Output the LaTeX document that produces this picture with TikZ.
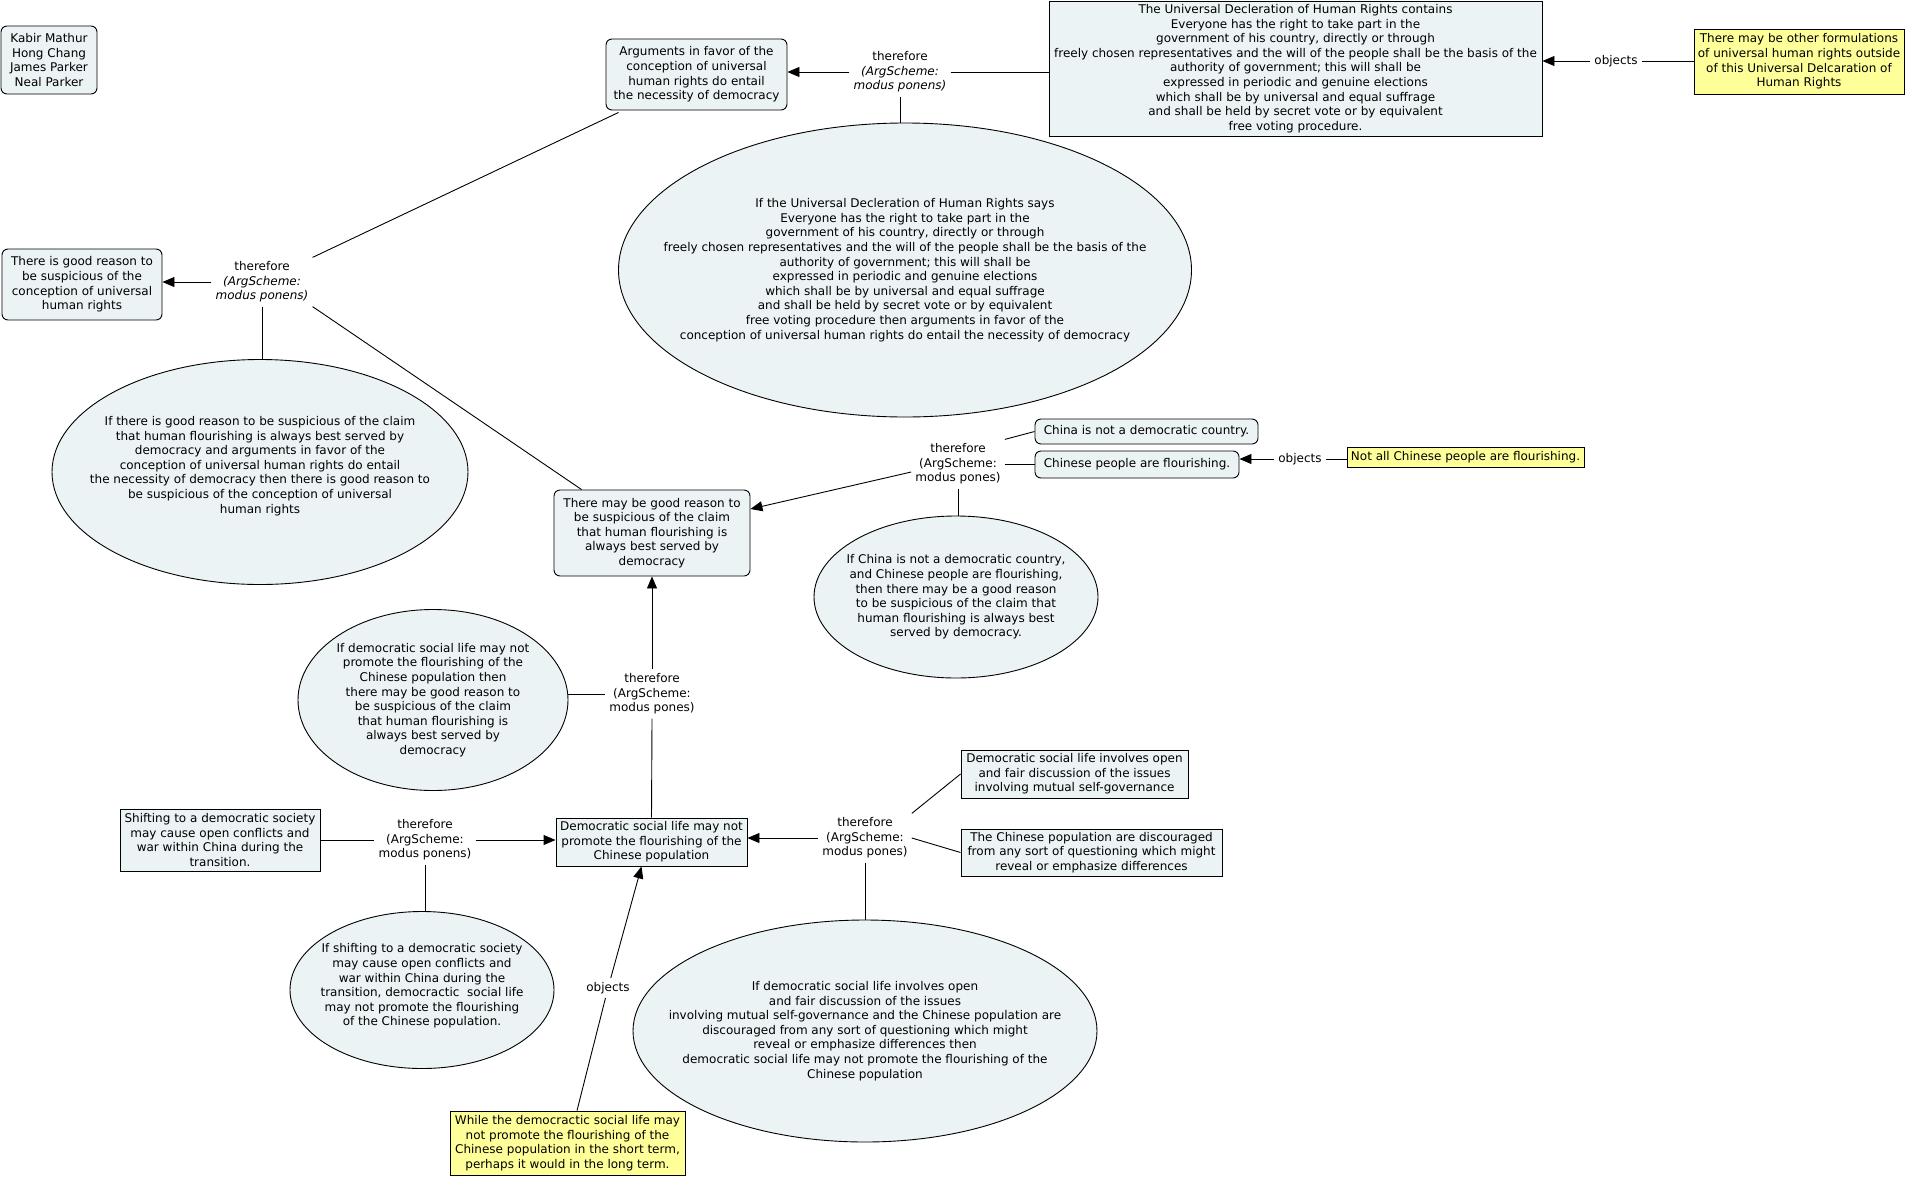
\documentclass[tikz,border=0pt]{standalone}
\usepackage{fontspec}
\setmainfont{DejaVu Sans}
\usetikzlibrary{shapes.geometric,arrows.meta,calc}
\definecolor{nodefill}{HTML}{EBF3F5}
\definecolor{objfill}{HTML}{FFFF99}
\begin{document}
\begin{tikzpicture}[x=1pt,y=-1pt,
 base/.style={font=\fontsize{12}{14.6}\selectfont, align=center},
 rbox/.style={base, draw, fill=nodefill, rounded corners=6pt, line width=0.9pt, inner sep=0pt},
 sbox/.style={base, draw, fill=nodefill, line width=0.9pt, inner sep=0pt},
 ybox/.style={base, draw, fill=objfill, line width=0.9pt, inner sep=0pt},
 ellnode/.style={draw, ellipse, fill=nodefill, line width=0.9pt, inner sep=0pt},
 etext/.style={base, inner sep=0pt},
 lbl/.style={base, inner sep=4pt},
 conn/.style={line width=0.9pt},
 arr/.style={conn, -{Triangle[length=12pt,width=10pt]}}]
\fill[white] (0,0) rectangle (1908,1178);
\useasboundingbox (0,0) rectangle (1908,1178);

% nodes
\node[rbox, minimum width=96, minimum height=68] (authors) at (49,60) {Kabir Mathur\\Hong Chang\\James Parker\\Neal Parker};
\node[rbox, minimum width=181, minimum height=71] (args) at (696.5,74.5) {Arguments in favor of the\\conception of universal\\human rights do entail\\the necessity of democracy};
\node[sbox, minimum width=493, minimum height=135] (udhr) at (1295.5,68.5) {The Universal Decleration of Human Rights contains\\Everyone has the right to take part in the\\government of his country, directly or through\\freely chosen representatives and the will of the people shall be the basis of the\\authority of government; this will shall be\\expressed in periodic and genuine elections\\which shall be by universal and equal suffrage\\and shall be held by secret vote or by equivalent\\free voting procedure.};
\node[ybox, minimum width=210, minimum height=65] (yellow1) at (1799,61.5) {There may be other formulations\\of universal human rights outside\\of this Universal Delcaration of\\Human Rights};
\node[ellnode, minimum width=573, minimum height=294] (ell1) at (905,270) {};
\node[etext] at (ell1) {If the Universal Decleration of Human Rights says\\Everyone has the right to take part in the\\government of his country, directly or through\\freely chosen representatives and the will of the people shall be the basis of the\\authority of government; this will shall be\\expressed in periodic and genuine elections\\which shall be by universal and equal suffrage\\and shall be held by secret vote or by equivalent\\free voting procedure then arguments in favor of the\\conception of universal human rights do entail the necessity of democracy};
\node[rbox, minimum width=160, minimum height=71] (good) at (82,284.5) {There is good reason to\\be suspicious of the\\conception of universal\\human rights};
\node[ellnode, minimum width=416, minimum height=225] (ell2) at (260,472) {};
\node[etext] at ($(ell2)+(0,-6)$) {If there is good reason to be suspicious of the claim\\that human flourishing is always best served by\\democracy and arguments in favor of the\\conception of universal human rights do entail\\the necessity of democracy then there is good reason to\\be suspicious of the conception of universal\\human rights};
\node[rbox, minimum width=196, minimum height=86] (maygood) at (652,533) {There may be good reason to\\be suspicious of the claim\\that human flourishing is\\always best served by\\democracy};
\node[rbox, minimum width=223, minimum height=25] (china) at (1146.5,431.5) {China is not a democratic country.};
\node[rbox, minimum width=204, minimum height=27] (flour) at (1137,464.5) {Chinese people are flourishing.};
\node[ybox, minimum width=237, minimum height=20] (yellow2) at (1465.5,457.5) {Not all Chinese people are flourishing.};
\node[ellnode, minimum width=284, minimum height=162] (ell3) at (956,597) {};
\node[etext] at (ell3) {If China is not a democratic country,\\and Chinese people are flourishing,\\then there may be a good reason\\to be suspicious of the claim that\\human flourishing is always best\\served by democracy.};
\node[ellnode, minimum width=270, minimum height=181] (ell4) at (433,700) {};
\node[etext] at (ell4) {If democratic social life may not\\promote the flourishing of the\\Chinese population then\\there may be good reason to\\be suspicious of the claim\\that human flourishing is\\always best served by\\democracy};
\node[sbox, minimum width=191, minimum height=48] (dsl) at (651.5,842) {Democratic social life may not\\promote the flourishing of the\\Chinese population};
\node[sbox, minimum width=200, minimum height=62] (shift) at (220,840) {Shifting to a democratic society\\may cause open conflicts and\\war within China during the\\transition.};
\node[ellnode, minimum width=264, minimum height=157] (ell5) at (422,990) {};
\node[etext] at ($(ell5)+(0,-4)$) {If shifting to a democratic society\\may cause open conflicts and\\war within China during the\\transition, democractic\ \ social life\\may not promote the flourishing\\of the Chinese population.};
\node[sbox, minimum width=227, minimum height=48] (inv) at (1074.5,774) {Democratic social life involves open\\and fair discussion of the issues\\involving mutual self-governance};
\node[sbox, minimum width=261, minimum height=47] (disc) at (1091.5,852.5) {The Chinese population are discouraged\\from any sort of questioning which might\\reveal or emphasize differences};
\node[ellnode, minimum width=464, minimum height=222] (ell6) at (865,1031) {};
\node[etext] at (ell6) {If democratic social life involves open\\and fair discussion of the issues\\involving mutual self-governance and the Chinese population are\\discouraged from any sort of questioning which might\\reveal or emphasize differences then\\democratic social life may not promote the flourishing of the\\Chinese population};
\node[ybox, minimum width=235, minimum height=64] (yellow3) at (567.5,1143) {While the democractic social life may\\not promote the flourishing of the\\Chinese population in the short term,\\perhaps it would in the long term.};

% linking phrases
\node[lbl] (lab1) at (900,72) {therefore\\\textit{(ArgScheme:}\\\textit{modus ponens)}};
\node[lbl] (objects1) at (1616,61) {objects};
\node[lbl] (lab2) at (262,282) {therefore\\\textit{(ArgScheme:}\\\textit{modus ponens)}};
\node[lbl] (lab3) at (958,464) {therefore\\(ArgScheme:\\modus pones)};
\node[lbl] (objects2) at (1300,459) {objects};
\node[lbl] (lab4) at (652,694) {therefore\\(ArgScheme:\\modus pones)};
\node[lbl] (lab5) at (425,840) {therefore\\(ArgScheme:\\modus ponens)};
\node[lbl] (lab6) at (865,838) {therefore\\(ArgScheme:\\modus pones)};
\node[lbl] (objects3) at (608,988) {objects};

% connectors
\draw[arr] (lab1.west) -- (args.east |- lab1.west);
\draw[conn] (lab1.east) -- (udhr.west |- lab1.east);
\draw[conn] (lab1.south) -- (lab1.south |- ell1.north);
\draw[arr] (objects1.west) -- (udhr.east |- objects1.west);
\draw[conn] (yellow1.west |- objects1.east) -- (objects1.east);

\draw[conn] ($(args.south west)+(13,2)$) -- (lab2.north east);
\draw[arr] (lab2.west) -- (good.east |- lab2.west);
\draw[conn] (lab2.south east) -- ($(maygood.north west)+(28,0)$);
\draw[conn] (lab2.south) -- (lab2.south |- ell2.north);

\draw[arr] ($(lab3.west)+(0,8)$) -- ($(maygood.east)+(0,-24)$);
\draw[conn] (lab3.north east) -- (china.west);
\draw[conn] (lab3.east) -- (flour.west |- lab3.east);
\draw[conn] (lab3.south) -- (lab3.south |- ell3.north);
\draw[arr] (objects2.west) -- (flour.east |- objects2.west);
\draw[conn] (yellow2.west |- objects2.east) -- (objects2.east);

\draw[arr] (lab4.north) -- (maygood.south);
\draw[conn] (lab4.west) -- (lab4.west -| ell4.east);
\draw[conn] (lab4.south) -- (dsl.north);

\draw[conn] (shift.east |- lab5.west) -- (lab5.west);
\draw[arr] (lab5.east) -- (dsl.west |- lab5.east);
\draw[conn] (lab5.south) -- (lab5.south |- ell5.north);

\draw[arr] (lab6.west) -- (dsl.east |- lab6.west);
\draw[conn] (lab6.north east) -- (inv.west);
\draw[conn] (lab6.east) -- (disc.west);
\draw[conn] (lab6.south) -- (lab6.south |- ell6.north);

\coordinate (y3top) at ($(yellow3.north)+(9.5,0)$);
\coordinate (dslbot) at ($(dsl.south)+(-10,0)$);
\draw[conn] (y3top) -- (objects3);
\draw[arr] (objects3) -- (dslbot);
\end{tikzpicture}
\end{document}
